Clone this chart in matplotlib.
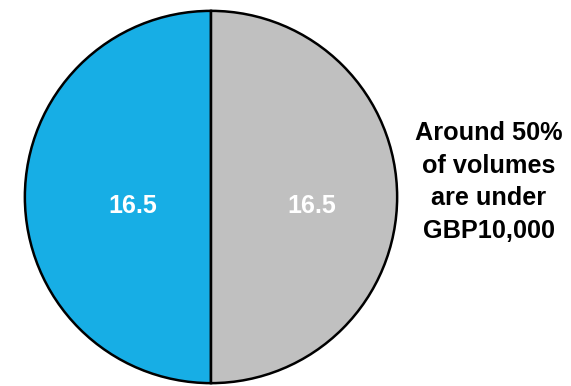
import matplotlib
matplotlib.use("Agg")
import matplotlib.pyplot as plt

plt.rcParams['font.family'] = ['Liberation Sans', 'DejaVu Sans']

# data
labels = ['Under GBP10,000', 'Over GBP10,000']
values = [16.5, 16.5]
colors = ['#17AEE5', '#C0C0C0']
note = 'Around 50%\nof volumes\nare under\nGBP10,000'

W, H = 571, 386
fig = plt.figure(figsize=(W / 100, H / 100), dpi=100)

# pie axes: centre (211,197), radius 188 px
cx, cy, r = 211, 197, 188
ax = fig.add_axes([(cx - r) / W, (H - cy - r) / H, 2 * r / W, 2 * r / H])
wedges, _ = ax.pie(values, colors=colors, startangle=90, counterclock=True,
                   wedgeprops=dict(edgecolor='black', linewidth=1.8))
ax.set_aspect('equal')
ax.set_xlim(-1.01, 1.01)
ax.set_ylim(-1.01, 1.01)

# value labels
for v, x in zip(values, [-0.42, 0.54]):
    ax.text(x, -0.048, f'{v}', color='white', fontsize=18, fontweight='bold',
            ha='center', va='center')

fig.text(489 / W, 1 - 182 / H, note, fontsize=18.2, fontweight='bold',
         ha='center', va='center', linespacing=1.47)

fig.savefig('out.png', dpi=100)
